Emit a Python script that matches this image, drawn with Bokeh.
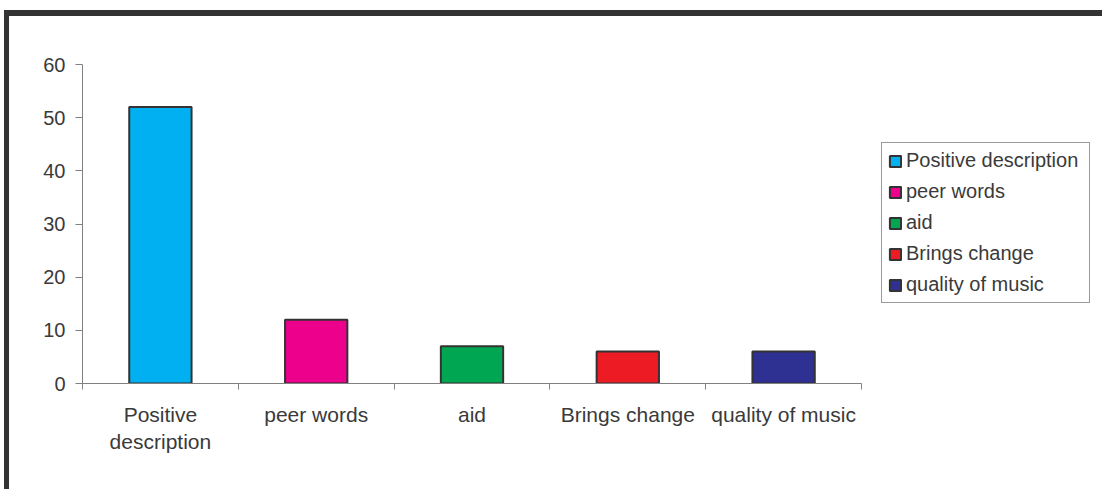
from bokeh.plotting import figure
from bokeh.models import (ColumnDataSource, FixedTicker, Legend, LegendItem,
                          Range1d, InlineStyleSheet)
from bokeh.embed import file_html
from bokeh.resources import INLINE

# Response categories and their counts
categories = ["Positive description", "peer words", "aid", "Brings change", "quality of music"]
tick_labels = ["Positive\ndescription", "peer words", "aid", "Brings change", "quality of music"]
counts = [52, 12, 7, 6, 6]
colors = ["#00B0F0", "#EC008C", "#00A651", "#ED1C24", "#2E3192"]
y_ticks = [0, 10, 20, 30, 40, 50, 60]

FONT = "Liberation Sans"
TEXT = "#3a3a3a"

xs = [i + 0.5 for i in range(len(categories))]
src = ColumnDataSource(dict(x=xs, top=counts, color=colors, name=categories))

# dark frame strips along the top and left edges, painted behind a transparent canvas
frame_css = InlineStyleSheet(css="""
:host {
  background:
    linear-gradient(#333333, #333333) 4px 10px / 1098px 6px no-repeat,
    linear-gradient(#333333, #333333) 4px 10px / 5px 479px no-repeat,
    #ffffff;
}
""")

p = figure(width=1102, height=489, frame_width=779, frame_height=319,
           output_backend="svg", toolbar_location=None,
           x_range=Range1d(0, len(categories)), y_range=Range1d(0, 60),
           min_border_left=82, min_border_right=241, min_border_top=64,
           min_border_bottom=106, stylesheets=[frame_css])
p.outline_line_color = None
p.grid.visible = False
p.background_fill_color = "white"
p.border_fill_color = None

r = p.vbar(x="x", top="top", width=0.4, source=src, fill_color="color",
           line_color="#333333", line_width=2)

# x axis: labels at category centres, ticks at category boundaries
xa = p.xaxis[0]
xa.ticker = FixedTicker(ticks=xs, minor_ticks=list(range(len(categories) + 1)))
xa.major_label_overrides = {x: lab for x, lab in zip(xs, tick_labels)}
xa.major_tick_out = 0
xa.major_tick_in = 0
xa.minor_tick_out = 6
xa.minor_tick_in = 0
xa.minor_tick_line_color = "#808080"
xa.axis_line_color = "#808080"
xa.major_label_standoff = 13
xa.major_label_text_font = FONT
xa.major_label_text_font_size = "21px"
xa.major_label_text_color = TEXT

ya = p.yaxis[0]
ya.ticker = FixedTicker(ticks=y_ticks)
ya.minor_tick_line_color = None
ya.major_tick_out = 7
ya.major_tick_in = 0
ya.major_tick_line_color = "#808080"
ya.axis_line_color = "#808080"
ya.major_label_standoff = 10
ya.major_label_text_font = FONT
ya.major_label_text_font_size = "20px"
ya.major_label_text_color = TEXT

items = [LegendItem(label=c, renderers=[r], index=i) for i, c in enumerate(categories)]
legend = Legend(items=items, location=(20, 80), orientation="vertical",
                label_text_font=FONT, label_text_font_size="20px",
                label_text_color=TEXT, glyph_width=14, glyph_height=14,
                label_height=20, label_width=177, spacing=8, padding=6, margin=0,
                label_standoff=4, border_line_color="#333333",
                border_line_width=1, background_fill_color="white")
p.add_layout(legend, "right")

open("out.html", "w").write(file_html(p, INLINE))
